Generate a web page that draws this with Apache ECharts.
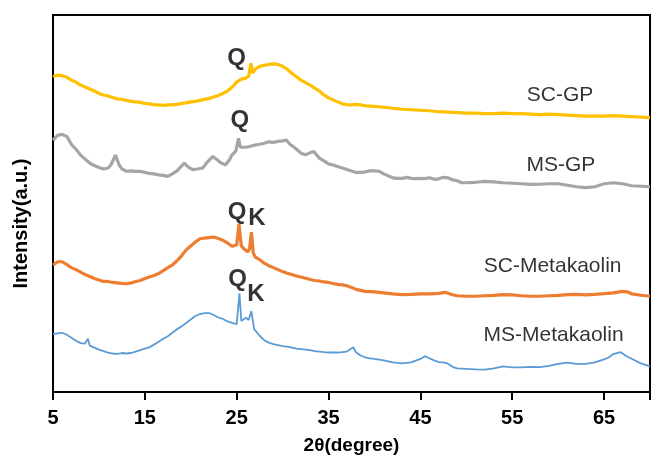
<!DOCTYPE html>
<html>
<head>
<meta charset="utf-8">
<script src="https://cdn.jsdelivr.net/npm/echarts@6/dist/echarts.min.js"></script>
<style>html,body{margin:0;padding:0;background:#fff}#c{width:653px;height:460px}</style>
</head>
<body>
<div id="c"></div>
<script>
// 2θ (degree) / intensity (a.u.) pairs
var scGP = [[5,320.7],[5.5,322],[6,321.5],[6.5,320],[7,317],[7.5,315],[8,312],[8.5,310],[9,308],[9.5,306],[10,303.5],[10.5,302],[11,301],[11.5,299.5],[12,298],[12.5,297.5],[13,296.5],[13.5,295.5],[14,295],[14.5,294.5],[15,293.5],[15.5,293],[16,292],[16.5,292],[17,291.5],[17.5,292],[18,292],[18.5,292.5],[19,293.5],[19.5,294],[20,295],[20.5,295.5],[21,296.5],[21.5,297.5],[22,298.5],[22.5,300],[23,301.5],[23.5,303.5],[24,306],[24.5,310],[25,315],[25.5,318],[26,319],[26.3,321],[26.55,334],[26.75,324],[27,328],[27.5,331],[28,332],[28.5,333],[29,333.5],[29.5,333],[30,331],[30.5,328],[31,324],[31.5,320.5],[32,317],[32.5,314.5],[33,312],[33.5,309],[34,306],[34.5,302],[35,299],[35.5,297],[36,295],[36.5,293],[37,292],[37.5,292],[38,292.5],[38.5,292],[39,291],[40,290.5],[41,289.5],[42,288.5],[43,287.5],[44,287],[45,286.5],[46,286],[47,285],[48,284.5],[49,284],[50,283.5],[51,283.5],[52,283],[53,283],[54,283.5],[55,283],[56,283],[57,282.5],[58,282],[59,282.5],[60,282],[61,281.5],[62,281],[63,280.5],[64,280.5],[65,280.5],[66,281],[67,280.5],[68,280],[69,279.5],[70,279]];
var msGP = [[5,256.3],[5.5,261],[6,262],[6.5,260],[7,252],[7.5,247],[8,241],[8.5,237],[9,233],[9.5,230.5],[10,228.5],[10.5,227],[11,228],[11.3,231],[11.8,241],[12.2,231],[12.5,227],[13,224.7],[13.5,225],[14,224.5],[14.5,224.7],[15,223.5],[15.5,222.5],[16,222],[16.5,221],[17,220.5],[17.5,219.5],[18,222],[18.5,225],[19,230],[19.3,233],[19.7,229],[20.2,226.3],[20.7,227],[21.3,228],[21.8,234],[22.4,239.7],[22.9,236],[23.3,233],[23.8,231.3],[24.2,236],[24.5,241.3],[24.9,245],[25.2,258],[25.4,249],[25.6,248],[26,249],[26.5,250],[27,251.3],[27.5,252],[28,253],[28.5,254.5],[29,254],[29.5,255],[30,255.5],[30.4,256.3],[30.8,252],[31.4,248],[32,243],[32.5,241.3],[33,243.5],[33.4,244.7],[34,238],[34.6,234.7],[35,232],[35.5,231],[36,229.5],[36.5,228],[37,226.5],[37.5,225],[38,223.5],[38.5,223.5],[39,224],[39.5,225],[40,225],[40.5,224.7],[41,222],[41.5,220],[42,218],[42.5,217.5],[43,217.5],[43.5,218.5],[44,217.5],[44.5,217.3],[45,217.5],[45.5,217.3],[46,218],[46.5,216.5],[47,217],[47.5,218.5],[48,218],[48.5,216],[49,215],[49.5,213],[50,213],[51,213.5],[52,214.5],[53,214],[54,213],[55,212.5],[56,212],[57,211.3],[58,211.5],[59,212],[60,212],[61,210.5],[62,209],[63,208],[64,209],[65,212],[66,213],[67,212],[68,210],[69,209.5],[70,209]];
var scMK = [[5,129.7],[5.5,133],[6,133],[6.5,130],[7,127],[7.5,125],[8,122.5],[8.5,120],[9,118],[9.5,116],[10,114.5],[10.5,113],[11,113],[11.5,112],[12,111.5],[12.5,111],[13,110.7],[13.5,111.5],[14,113],[14.5,114],[15,116],[15.5,117.5],[16,119],[16.5,121],[17,124],[17.5,127],[18,129.7],[18.5,134],[19,139],[19.5,145],[20,149],[20.5,153],[21,156.3],[21.5,157],[22,157.5],[22.5,158],[23,156.5],[23.5,154.7],[24,152],[24.5,148.7],[25,150],[25.25,171],[25.5,149],[25.8,146],[26.2,143],[26.4,146],[26.6,163],[26.8,142],[27,138],[27.5,135],[28,131.5],[28.5,129],[29,127],[29.5,125],[30,123],[30.5,121.3],[31,120],[31.5,118.5],[32,117.5],[32.5,116.3],[33,115],[33.5,114],[34,113.5],[34.5,112.5],[35,112],[35.5,111],[36,110],[36.5,109.5],[37,108.7],[37.5,107],[38,105],[38.5,104],[39,103],[40,102.5],[41,101.5],[42,100.5],[43,99.7],[44,100],[45,100.5],[46,100.5],[47,101],[47.7,102],[48.5,99.5],[49,98.5],[50,98],[51,98],[52,98.5],[53,99],[54,99.7],[55,99.5],[56,98.5],[57,98],[58,98],[59,98.5],[60,99],[61,99.7],[62,100],[63,99.5],[64,100],[65,100.7],[66,101.5],[67,103],[67.5,102.5],[68,100.5],[69,99],[70,98]];
var msMK = [[5,59.7],[5.5,60.5],[6,61],[6.5,59],[7,56],[7.5,53],[8,50.5],[8.5,50],[8.8,55],[9,48],[9.5,46],[10,44],[10.5,42.5],[11,41],[11.5,40],[12,39.7],[12.5,40.5],[13,40],[13.5,40.5],[14,42],[14.5,43.5],[15,45],[15.5,46.3],[16,49],[16.5,52],[17,55],[17.5,57.5],[18,61],[18.5,64.5],[19,67.5],[19.5,71],[20,74.5],[20.5,78],[21,80],[21.5,81],[22,81],[22.5,79],[23,76.5],[23.5,75],[24,72.5],[24.5,71],[25,69.7],[25.3,101],[25.5,73],[25.7,72],[26,76.3],[26.3,74],[26.6,83],[26.9,64.7],[27.5,58],[28,53.5],[28.5,51],[29,49.5],[29.5,48.5],[30,47.5],[30.5,47],[31,46],[31.5,45],[32,44.5],[32.5,44],[33,43.5],[33.5,42.5],[34,42],[34.5,41.5],[35,41],[35.5,41],[36,41],[36.5,41.5],[37,42],[37.7,46.3],[38,41],[38.5,38],[39,36],[39.5,35],[40,34.5],[41,33],[42,31],[43,30],[44,31],[45,34.5],[45.5,37.3],[46,35],[46.5,33],[47,31.3],[47.5,31],[48,29.7],[48.5,26.5],[49,25],[50,24.5],[51,24],[52,23.7],[53,25],[54,27],[54.5,26.5],[55,26],[56,26],[57,26.5],[58,26.3],[59,27.5],[60,29.5],[61,30.7],[62,29.5],[63,29.5],[64,31],[65,34],[65.5,36],[66,39.5],[66.8,41.3],[67.5,37],[68,34.7],[69,30],[70,27]];
var peakLabels = [[25.0,339,'Q'],[25.35,276,'Q'],[25.03,183,'Q'],[27.2,177,'K'],[25.1,115,'Q'],[27.1,100,'K']];
var seriesNames = [[60.2,302,'SC-GP'],[60.3,231,'MS-GP'],[59.4,128,'SC-Metakaolin'],[59.5,59,'MS-Metakaolin']];
var xTicks = [5,15,25,35,45,55,65];

var chart = echarts.init(document.getElementById('c'), null, {renderer:'canvas'});
function line(data, color, w){
  return {type:'line', data:data, showSymbol:false, symbol:'none', animation:false,
    lineStyle:{color:color, width:w}, z:2};
}
function textSeries(items, size, weight){
  return {type:'scatter', symbolSize:0, animation:false, silent:true, z:5,
    data: items.map(function(d){return {value:[d[0],d[1]], name:d[2]};}),
    label:{show:true, position:'inside', formatter:function(p){return p.name;},
      color:'#000', fontFamily:'Liberation Sans, Arial', fontSize:size, fontWeight:weight}};
}
chart.setOption({
  backgroundColor:'#fff',
  grid:{left:53, right:2, top:15, bottom:63, show:true, borderColor:'#000', borderWidth:2},
  xAxis:{type:'value', min:5, max:70, interval:10,
    name:'2θ(degree)', nameLocation:'middle', nameGap:44,
    nameTextStyle:{fontFamily:'Liberation Sans, Arial', fontWeight:'bold', fontSize:19, color:'#000'},
    axisLine:{show:true, lineStyle:{color:'#000', width:2}},
    axisTick:{show:true, length:8, lineStyle:{color:'#000', width:2}},
    splitLine:{show:false},
    axisLabel:{margin:16, color:'#000', fontFamily:'Liberation Sans, Arial', fontWeight:'bold', fontSize:20,
      formatter:function(v){return xTicks.indexOf(v) >= 0 ? String(v) : '';}}},
  yAxis:{type:'value', min:1, max:383,
    name:'Intensity(a.u.)', nameLocation:'middle', nameGap:22, nameRotate:90,
    nameTextStyle:{fontFamily:'Liberation Sans, Arial', fontWeight:'bold', fontSize:20, color:'#000', padding:[0,40,0,0]},
    axisLine:{show:true, lineStyle:{color:'#000', width:2}},
    axisTick:{show:false}, axisLabel:{show:false}, splitLine:{show:false}},
  series:[
    line(scGP,'#FFC000',3.2),
    line(msGP,'#A5A5A5',3.2),
    line(scMK,'#ED7D31',3.2),
    line(msMK,'#5B9BD5',1.8),
    textSeries(peakLabels,24,'bold'),
    textSeries(seriesNames,21,'normal')
  ]
});
</script>
</body>
</html>
